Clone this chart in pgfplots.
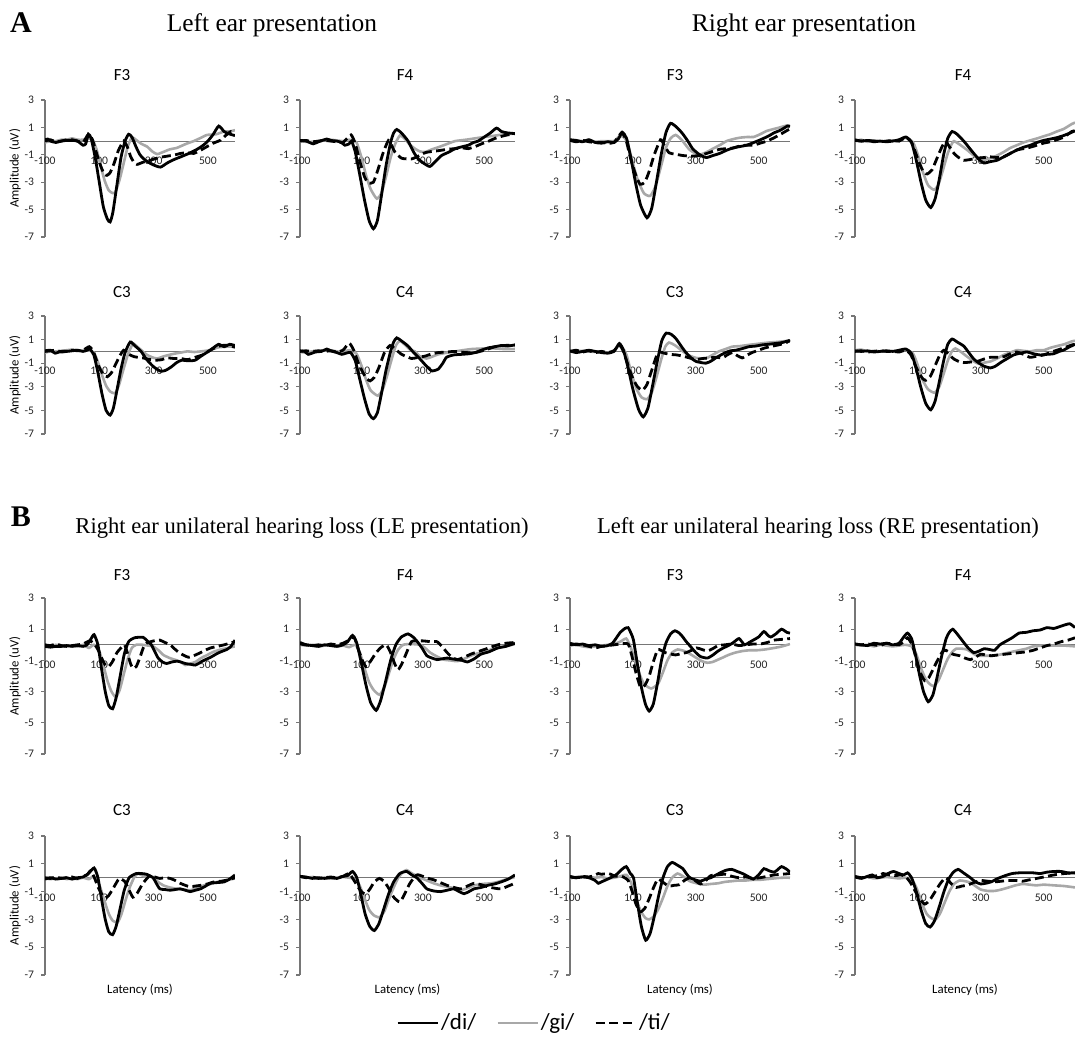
\documentclass[border=0pt]{standalone}
\usepackage{fontspec}
\setmainfont{Liberation Serif}
\newfontfamily\carl{Carlito}
\usepackage{pgfplots}
\pgfplotsset{compat=1.18}
\definecolor{axgray}{RGB}{118,118,118}
\definecolor{gicol}{RGB}{168,168,168}
\pgfplotsset{
 erp/.style={
  scale only axis,
  xmin=-100, xmax=600, ymin=-7, ymax=3,
  axis x line=middle, axis y line=left,
  axis line style={-, draw=axgray, line width=0.6pt},
  hide obscured x ticks=false, hide obscured y ticks=false,
  xtick={-100,100,300,500}, xticklabels={-100,100,300,500},
  ytick={-7,-5,-3,-1,1,3}, yticklabels={-7,-5,-3,-1,1,3},
  x tick style={draw=none},
  y tick style={draw=axgray, line width=0.6pt},
  tick align=outside, major tick length=2pt,
  tick label style={font=\carl\fontsize{5.8}{6}\selectfont, text=black!85},
  x tick label style={anchor=north, yshift=-2.5pt},
  y tick label style={anchor=east},
  clip=true,
 },
 amp/.style={ylabel={Amplitude (uV)}, ylabel style={font=\carl\fontsize{6.4}{7}\selectfont, at={(rel axis cs:-0.158,0.5)}, anchor=center, rotate=0}},
 lat/.style={xlabel={Latency (ms)}, xlabel style={font=\carl\fontsize{6.4}{7}\selectfont, at={(rel axis cs:0.5,0)}, anchor=center, yshift=-7.5pt}},
 dil/.style={black, line width=1.4pt},
 gil/.style={gicol, line width=1.3pt},
 til/.style={black, line width=1.4pt, dash pattern=on 4.5pt off 2.2pt},
 di/.style={dil, smooth, tension=0.35},
 gi/.style={gil, smooth, tension=0.35},
 ti/.style={til, smooth, tension=0.35},
}
\begin{document}
\begin{tikzpicture}
\path (0,0) rectangle (537.5pt,-519pt);
% ---- titles
\node[font=\bfseries\fontsize{15}{17}\selectfont] at (10.5pt,-11.5pt) {A};
\node[font=\fontsize{12.7}{15}\selectfont] at (136pt,-12.5pt) {Left ear presentation};
\node[font=\fontsize{12.7}{15}\selectfont] at (402pt,-12.5pt) {Right ear presentation};
\node[font=\bfseries\fontsize{15}{17}\selectfont] at (10.5pt,-258.5pt) {B};
\node[font=\fontsize{11.3}{14}\selectfont] at (151pt,-264pt) {Right ear unilateral hearing loss (LE presentation)};
\node[font=\fontsize{11.3}{14}\selectfont] at (409pt,-264pt) {Left ear unilateral hearing loss (RE presentation)};
% panel titles
\foreach \r/\yy/\a/\b in {1/-37.5/F3/F4, 2/-146/C3/C4, 3/-287.5/F3/F4, 4/-405/C3/C4}{
 \node[font=\carl\fontsize{8.5}{10}\selectfont] at (61pt,\yy pt) {\a};
 \node[font=\carl\fontsize{8.5}{10}\selectfont] at (202.5pt,\yy pt) {\b};
 \node[font=\carl\fontsize{8.5}{10}\selectfont] at (337.5pt,\yy pt) {\a};
 \node[font=\carl\fontsize{8.5}{10}\selectfont] at (481.5pt,\yy pt) {\b};
}
% ================= A: LE F3
\begin{axis}[erp, amp, at={(22.5pt,-118.5pt)}, width=95pt, height=68.5pt]
\addplot[gi] coordinates {(-100,-0.1)(-80,0)(-60,0)(-40,0.1)(-20,0.1)(0,0.2)(20,0.1)(40,0.1)(60,0.2)(75,0.1)(90,-0.6)(105,-1.8)(120,-2.9)(135,-3.6)(150,-3.8)(160,-3.7)(175,-2.8)(190,-1.6)(205,-0.4)(220,0.27)(235,0.1)(255,-0.2)(276,-0.4)(295,-0.75)(313,-0.95)(335,-0.8)(360,-0.6)(385,-0.5)(420,-0.2)(448,0)(470,0.2)(497,0.45)(530,0.5)(560,0.7)(580,0.7)(600,0.8)};
\addplot[ti] coordinates {(-100,0)(-80,0.1)(-60,-0.05)(-40,0)(-20,0.1)(0,0.1)(20,0)(40,-0.1)(60,0.5)(75,0.1)(90,-0.9)(105,-1.8)(118,-2.4)(128,-2.5)(140,-2.3)(155,-1.6)(170,-0.7)(190,0)(205,-0.5)(215,-1.1)(226,-1.5)(239,-1.7)(260,-1.55)(288,-1.4)(320,-1.2)(350,-1.1)(380,-1.0)(399,-0.9)(425,-0.85)(448,-0.9)(470,-0.7)(497,-0.4)(520,-0.15)(547,0.07)(565,0.4)(585,0.7)(600,0.5)};
\addplot[di] coordinates {(-100,0.1)(-90,0.15)(-80,0)(-60,-0.1)(-40,0)(-20,0.05)(0,0.05)(20,0)(40,-0.3)(50,-0.2)(60,0.5)(70,0.2)(85,-1.2)(100,-3)(115,-4.8)(130,-5.7)(140,-5.9)(150,-5.2)(165,-3.2)(180,-1.2)(195,0)(208,0.5)(220,0.3)(235,-0.4)(250,-1)(270,-1.4)(295,-1.7)(325,-1.9)(350,-1.6)(375,-1.35)(400,-1.15)(430,-0.9)(460,-0.6)(480,-0.35)(500,0)(520,0.5)(540,1.1)(560,0.7)(575,0.55)(600,0.4)};
\end{axis}
% ================= A: LE F4
\begin{axis}[erp, at={(150pt,-118.5pt)}, width=107.5pt, height=68.5pt]
\addplot[gi] coordinates {(-100,0)(-80,-0.05)(-60,-0.05)(-40,0)(-20,0.1)(0,0.1)(20,0.05)(40,0)(60,0.1)(84,-0.1)(100,-1.2)(115,-2.5)(130,-3.5)(150,-4.2)(165,-3.8)(180,-2.6)(195,-1.2)(210,-0.2)(225,0.4)(240,0.2)(255,-0.2)(274,-0.55)(290,-0.75)(307,-0.8)(330,-0.6)(350,-0.45)(380,-0.2)(405,0)(440,0.1)(470,0.2)(500,0.3)(535,0.4)(565,0.5)(600,0.55)};
\addplot[ti] coordinates {(-100,0)(-80,0.05)(-60,-0.05)(-40,0)(-20,0.05)(0,0)(20,-0.05)(40,-0.1)(66,0.45)(80,-0.2)(95,-1.5)(110,-2.6)(122,-3.05)(139,-3.0)(155,-2)(170,-0.9)(188,0.05)(200,-0.4)(209,-0.8)(231,-1.25)(263,-1.3)(285,-1.1)(307,-0.85)(330,-0.75)(350,-0.7)(380,-0.6)(405,-0.55)(430,-0.5)(448,-0.55)(470,-0.4)(491,-0.2)(515,0)(535,0.2)(565,0.4)(600,0.55)};
\addplot[di] coordinates {(-100,0.05)(-80,0)(-57,-0.2)(-40,-0.05)(-13,0.15)(0,0.05)(20,0)(35,-0.1)(46,-0.3)(60,-0.2)(68,0)(80,-0.8)(95,-2.5)(110,-4.3)(125,-5.8)(139,-6.4)(152,-5.8)(165,-4)(180,-1.8)(195,-0.1)(205,0.6)(215,0.85)(230,0.6)(252,0)(270,-0.8)(285,-1.3)(305,-1.65)(323,-1.85)(340,-1.5)(361,-1.05)(385,-0.8)(405,-0.55)(430,-0.4)(448,-0.3)(465,-0.1)(480,0)(500,0.3)(520,0.6)(540,0.95)(556,0.7)(575,0.6)(600,0.55)};
\end{axis}
% ================= A: RE F3
\begin{axis}[erp, at={(285pt,-118.5pt)}, width=110pt, height=68.5pt]
\addplot[gi] coordinates {(-100,0)(-80,0.05)(-60,0)(-40,0.1)(-20,-0.05)(0,0)(20,0)(40,0)(60,0.4)(75,0.2)(85,-0.3)(100,-1.6)(115,-2.8)(135,-3.8)(155,-4.0)(172,-3.3)(190,-1.8)(205,-0.5)(220,0.2)(236,0.45)(255,0.1)(279,-0.6)(295,-0.85)(312,-1.0)(335,-0.8)(355,-0.55)(380,-0.25)(398,0)(420,0.15)(441,0.25)(465,0.3)(484,0.3)(505,0.5)(527,0.75)(560,0.95)(592,1.15)(600,1.1)};
\addplot[ti] coordinates {(-100,0.05)(-80,-0.05)(-60,0.05)(-40,-0.05)(-20,-0.1)(0,-0.1)(20,-0.15)(40,-0.1)(64,0.6)(78,0.1)(92,-1.2)(108,-2.4)(123,-3.15)(138,-3.0)(152,-2.2)(168,-1)(188,0.1)(200,-0.3)(215,-0.85)(235,-0.95)(258,-1.05)(285,-1.1)(312,-1.05)(335,-0.9)(355,-0.75)(376,-0.6)(398,-0.55)(420,-0.5)(441,-0.35)(462,-0.3)(484,-0.3)(505,-0.15)(527,0)(550,0.25)(570,0.5)(600,0.9)};
\addplot[di] coordinates {(-100,0.1)(-80,0.05)(-60,-0.05)(-40,0.1)(-20,-0.1)(0,-0.15)(20,-0.05)(40,-0.1)(55,0.2)(66,0.65)(80,0.2)(95,-1.4)(110,-3.2)(125,-4.7)(145,-5.6)(160,-4.9)(175,-3)(190,-1)(205,0.6)(220,1.3)(240,1)(258,0.55)(275,0)(290,-0.55)(310,-0.95)(333,-1.2)(355,-1.05)(376,-0.9)(400,-0.65)(419,-0.5)(440,-0.4)(462,-0.3)(485,-0.1)(506,0.1)(530,0.35)(549,0.6)(570,0.8)(592,1.1)(600,1.05)};
\end{axis}
% ================= A: RE F4
\begin{axis}[erp, at={(427.5pt,-118.5pt)}, width=110pt, height=68.5pt]
\addplot[gi] coordinates {(-100,0)(-80,0.1)(-60,-0.05)(-40,0.05)(-20,0)(0,0)(20,0.05)(40,0)(62,0.25)(85,-0.1)(100,-1)(115,-2.2)(132,-3.2)(151,-3.55)(165,-3.2)(180,-2.1)(195,-0.9)(208,-0.2)(215,0)(230,-0.2)(257,-0.65)(280,-1.1)(299,-1.4)(315,-1.35)(331,-1.25)(352,-1.05)(373,-0.8)(394,-0.5)(415,-0.3)(436,-0.1)(457,0.05)(480,0.2)(500,0.35)(521,0.5)(542,0.7)(565,0.9)(590,1.25)(600,1.35)};
\addplot[ti] coordinates {(-100,0.05)(-80,0)(-60,0.05)(-40,0)(-20,-0.05)(0,0)(20,0.05)(40,0)(62,0.25)(80,-0.1)(95,-1)(110,-1.9)(120,-2.3)(130,-2.4)(145,-2.1)(160,-1.3)(175,-0.5)(188,0)(200,-0.4)(215,-0.9)(230,-1.2)(246,-1.4)(265,-1.35)(289,-1.25)(310,-1.2)(331,-1.15)(352,-1.2)(373,-1.15)(394,-0.9)(415,-0.65)(436,-0.55)(457,-0.45)(479,-0.3)(500,-0.15)(521,-0.05)(542,0.1)(565,0.3)(590,0.7)(600,0.75)};
\addplot[di] coordinates {(-100,0.1)(-80,0)(-60,0.05)(-40,-0.05)(-20,0)(0,-0.05)(20,0)(40,0.1)(62,0.3)(80,-0.1)(95,-1.4)(110,-3)(125,-4.3)(141,-4.85)(155,-4.2)(168,-2.8)(182,-1)(195,0.2)(209,0.7)(225,0.5)(246,0)(262,-0.45)(278,-0.9)(295,-1.35)(310,-1.6)(330,-1.5)(352,-1.4)(373,-1.15)(394,-0.9)(415,-0.65)(436,-0.45)(458,-0.3)(479,-0.1)(500,0.05)(521,0.15)(542,0.25)(563,0.4)(580,0.55)(600,0.75)};
\end{axis}
% ================= A: LE C3
\begin{axis}[erp, amp, at={(22.5pt,-217pt)}, width=95pt, height=59pt]
\addplot[gi] coordinates {(-100,-0.1)(-80,0)(-60,0)(-40,0.05)(-20,0.1)(0,0.15)(20,0.1)(40,0.05)(60,0.1)(80,-0.1)(95,-0.9)(110,-2)(125,-2.9)(140,-3.4)(158,-3.55)(172,-2.9)(188,-1.6)(205,-0.3)(220,0.5)(227,0.65)(245,0.3)(260,0)(276,-0.3)(295,-0.5)(313,-0.6)(340,-0.4)(375,-0.2)(400,-0.1)(425,0)(450,-0.05)(475,0)(505,0.1)(540,0.35)(570,0.4)(600,0.4)};
\addplot[ti] coordinates {(-100,0)(-80,0.05)(-60,0.1)(-40,-0.05)(-20,0)(0,0.1)(20,0.05)(40,0.1)(63,0.4)(78,0)(92,-0.9)(105,-1.6)(118,-2)(130,-2.15)(145,-1.8)(160,-1.1)(175,-0.4)(190,0.1)(205,-0.2)(229,-0.45)(260,-0.55)(280,-0.65)(304,-0.75)(330,-0.7)(350,-0.55)(375,-0.6)(400,-0.6)(425,-0.7)(453,-0.5)(480,-0.3)(502,0)(525,0.3)(550,0.5)(575,0.5)(600,0.35)};
\addplot[di] coordinates {(-100,0.05)(-80,0.1)(-63,-0.15)(-40,0)(-20,0)(0,0.05)(20,0.1)(40,0)(55,0.1)(65,0.2)(80,-0.3)(95,-1.8)(110,-3.6)(125,-5)(140,-5.4)(152,-4.8)(165,-3.3)(180,-1.5)(195,-0.1)(214,0.8)(230,0.5)(254,0)(275,-0.7)(300,-1.3)(326,-1.68)(345,-1.6)(366,-1.3)(385,-0.95)(403,-0.75)(430,-0.8)(453,-0.75)(475,-0.4)(502,0)(520,0.3)(540,0.6)(560,0.4)(580,0.6)(600,0.5)};
\end{axis}
% ================= A: LE C4
\begin{axis}[erp, at={(150pt,-217pt)}, width=107.5pt, height=59pt]
\addplot[gi] coordinates {(-100,-0.05)(-80,-0.1)(-60,0)(-40,0.05)(-20,0.1)(0,0.1)(20,0)(40,-0.05)(60,0.1)(84,-0.2)(100,-1.2)(115,-2.4)(130,-3.3)(153,-3.75)(168,-3.3)(182,-2.2)(198,-0.7)(212,0.5)(225,0.9)(240,0.6)(258,0.15)(274,0)(290,-0.4)(312,-0.6)(330,-0.45)(350,-0.25)(380,-0.1)(405,0)(430,0.1)(459,0.2)(500,0.25)(535,0.25)(565,0.2)(600,0.2)};
\addplot[ti] coordinates {(-100,0)(-80,0.05)(-60,0)(-40,0.05)(-20,0)(0,0.05)(20,-0.05)(40,0.1)(60,0.7)(75,0.1)(90,-1)(105,-1.8)(117,-2.3)(128,-2.5)(142,-2.2)(158,-1.3)(175,-0.1)(193,0.5)(210,0.2)(231,-0.25)(263,-0.6)(285,-0.5)(307,-0.4)(330,-0.2)(350,-0.1)(380,-0.05)(405,0)(440,-0.1)(470,-0.1)(500,0.1)(535,0.4)(565,0.5)(600,0.55)};
\addplot[di] coordinates {(-100,0.05)(-85,0)(-73,-0.25)(-50,-0.05)(-30,0)(-13,0.2)(0,0.05)(20,-0.1)(36,-0.25)(50,-0.15)(65,-0.1)(80,-0.8)(95,-2.4)(110,-4)(125,-5.3)(139,-5.7)(152,-5.2)(165,-3.6)(180,-1.6)(195,0)(205,0.8)(215,1.15)(230,0.9)(252,0.45)(270,-0.1)(291,-0.65)(310,-1.2)(329,-1.65)(350,-1.5)(365,-1)(377,-0.5)(400,-0.3)(426,-0.25)(450,-0.2)(470,-0.1)(490,0.1)(513,0.3)(535,0.4)(556,0.5)(575,0.45)(600,0.55)};
\end{axis}
% ================= A: RE C3
\begin{axis}[erp, at={(285pt,-217pt)}, width=110pt, height=59pt]
\addplot[gi] coordinates {(-100,-0.05)(-80,0)(-60,0.05)(-40,0)(-20,-0.05)(0,0)(20,-0.1)(40,0.1)(57,0.5)(70,0.2)(80,-0.3)(95,-1.8)(112,-3.2)(128,-3.9)(145,-4.05)(160,-3.5)(175,-2.2)(190,-0.7)(203,0.4)(215,0.75)(235,0.5)(259,0)(280,-0.35)(301,-0.55)(332,-0.6)(350,-0.35)(374,0)(395,0.2)(416,0.4)(440,0.45)(469,0.55)(500,0.65)(532,0.75)(560,0.8)(595,0.9)(600,0.9)};
\addplot[ti] coordinates {(-100,0)(-80,0.1)(-60,-0.05)(-40,0.05)(-20,-0.1)(0,0)(20,-0.1)(40,0.05)(57,0.55)(70,0)(85,-1.2)(100,-2.3)(115,-3)(130,-3.3)(145,-2.8)(160,-1.6)(180,-0.1)(200,-0.15)(217,-0.25)(240,-0.3)(259,-0.4)(280,-0.55)(301,-0.7)(322,-0.6)(343,-0.55)(365,-0.5)(385,-0.55)(400,-0.3)(416,-0.1)(432,-0.35)(448,-0.55)(465,-0.3)(479,-0.1)(500,0.1)(521,0.3)(545,0.45)(563,0.55)(585,0.7)(600,0.95)};
\addplot[di] coordinates {(-100,0.05)(-80,-0.1)(-60,0)(-40,0.1)(-20,0)(0,-0.1)(20,-0.15)(40,0)(57,0.67)(70,0.1)(85,-1.4)(100,-3.2)(118,-4.9)(133,-5.55)(148,-4.8)(162,-3)(178,-0.8)(192,0.9)(206,1.55)(222,1.45)(238,1.05)(255,0.4)(269,-0.1)(285,-0.55)(301,-0.85)(332,-1.0)(350,-0.8)(364,-0.55)(380,-0.3)(395,-0.1)(410,0.05)(427,0.1)(450,0.25)(469,0.4)(490,0.45)(511,0.55)(530,0.6)(553,0.67)(575,0.75)(595,0.9)(600,0.85)};
\end{axis}
% ================= A: RE C4
\begin{axis}[erp, at={(427.5pt,-217pt)}, width=110pt, height=59pt]
\addplot[gi] coordinates {(-100,0.1)(-80,0.15)(-60,0)(-40,0.05)(-20,0)(0,0.05)(20,0)(40,0.05)(62,0.15)(85,-0.2)(100,-1.2)(115,-2.4)(132,-3.2)(153,-3.5)(168,-3.0)(182,-1.9)(195,-0.8)(208,0)(219,0.25)(235,0)(257,-0.45)(275,-0.8)(294,-1.05)(312,-0.95)(331,-0.85)(352,-0.6)(373,-0.3)(394,-0.1)(415,0.1)(436,0.05)(457,0)(478,0.1)(500,0.1)(521,0.3)(542,0.45)(565,0.6)(590,0.85)(600,0.9)};
\addplot[ti] coordinates {(-100,0)(-80,0.05)(-60,-0.05)(-40,0)(-20,0.05)(0,0)(20,0)(40,-0.05)(62,0.1)(78,-0.3)(92,-1.2)(105,-1.9)(115,-2.3)(125,-2.45)(140,-2.1)(155,-1.2)(170,-0.3)(183,0.1)(200,-0.3)(215,-0.65)(230,-0.85)(246,-0.95)(268,-0.9)(289,-0.85)(310,-0.65)(331,-0.5)(352,-0.5)(373,-0.45)(394,-0.2)(415,-0.05)(436,-0.25)(457,-0.5)(479,-0.4)(500,-0.3)(521,-0.1)(542,0.1)(565,0.3)(590,0.55)(600,0.6)};
\addplot[di] coordinates {(-100,0.05)(-80,0)(-60,0.05)(-40,-0.05)(-20,0)(0,0.05)(20,0)(40,0.1)(62,0.2)(80,-0.2)(95,-1.5)(110,-3.1)(125,-4.4)(141,-4.95)(155,-4.2)(168,-2.6)(182,-0.8)(195,0.6)(209,1.05)(225,0.8)(246,0.45)(262,-0.1)(278,-0.65)(295,-1.0)(310,-1.25)(331,-1.4)(347,-1.25)(363,-0.95)(385,-0.6)(405,-0.3)(426,-0.15)(447,-0.05)(468,-0.2)(489,-0.3)(510,-0.25)(532,-0.2)(550,0)(563,0.1)(580,0.35)(600,0.6)};
\end{axis}
% ================= B: RHL F3
\begin{axis}[erp, amp, at={(22.5pt,-377pt)}, width=95pt, height=78pt]
\addplot[gi] coordinates {(-100,-0.05)(-80,-0.1)(-60,0)(-40,-0.05)(-20,-0.1)(0,-0.05)(20,-0.1)(40,0)(62,-0.2)(80,0)(100,-0.4)(115,-1.3)(130,-2.3)(145,-3.0)(161,-3.35)(175,-2.9)(190,-1.9)(205,-0.9)(220,-0.2)(236,0)(260,0)(280,-0.05)(298,-0.1)(318,-0.35)(336,-0.65)(360,-0.85)(386,-1.0)(400,-1.1)(417,-1.3)(436,-1.2)(454,-1.1)(475,-0.85)(498,-0.65)(520,-0.45)(548,-0.3)(575,-0.2)(600,-0.1)};
\addplot[ti] coordinates {(-100,0)(-80,-0.05)(-60,0.05)(-40,-0.05)(-20,-0.1)(0,-0.05)(20,0)(40,0.05)(64,0.25)(80,0.1)(95,-0.3)(110,-0.9)(122,-1.3)(134,-1.4)(148,-1.1)(165,-0.5)(180,-0.2)(193,0)(205,-0.6)(215,-1.2)(224,-1.5)(236,-1.4)(250,-0.8)(262,-0.2)(274,0.1)(300,0.25)(323,0.3)(342,0.15)(361,0)(380,-0.3)(398,-0.55)(415,-0.7)(429,-0.8)(448,-0.7)(467,-0.55)(490,-0.35)(510,-0.2)(535,-0.1)(560,0)(580,0.1)(600,0.2)};
\addplot[di] coordinates {(-100,-0.1)(-80,-0.15)(-60,-0.1)(-40,-0.1)(-20,-0.05)(0,-0.1)(20,-0.05)(40,-0.1)(55,0)(70,0.4)(81,0.65)(95,0)(108,-1.5)(122,-3)(135,-3.9)(149,-4.1)(162,-3.4)(177,-2)(192,-0.6)(208,0.2)(230,0.45)(261,0.48)(280,0.2)(292,0)(305,-0.45)(317,-0.85)(333,-1.1)(348,-1.2)(367,-1.1)(386,-1.05)(400,-1.1)(417,-1.2)(436,-1.25)(454,-1.3)(470,-1.15)(485,-1.0)(510,-0.8)(535,-0.55)(555,-0.4)(570,-0.3)(585,-0.1)(600,0.3)};
\end{axis}
% ================= B: RHL F4
\begin{axis}[erp, at={(150pt,-377pt)}, width=107.5pt, height=78pt]
\addplot[gi] coordinates {(-100,0)(-80,-0.05)(-60,0)(-40,-0.1)(-20,-0.05)(0,0)(20,-0.1)(40,-0.05)(60,-0.15)(80,0)(95,-0.5)(110,-1.5)(125,-2.4)(140,-2.9)(159,-3.2)(175,-2.7)(190,-1.8)(205,-0.9)(220,-0.3)(236,0)(260,0.05)(291,0)(307,-0.2)(324,-0.5)(346,-0.75)(368,-0.95)(390,-1.0)(412,-1.05)(434,-0.9)(456,-0.7)(478,-0.55)(500,-0.45)(522,-0.3)(544,-0.2)(570,-0.1)(600,0.05)};
\addplot[ti] coordinates {(-100,0.05)(-80,0)(-60,-0.05)(-40,0)(-20,-0.05)(0,0.05)(20,0)(40,0.1)(60,0.3)(76,0.5)(90,-0.3)(103,-1.0)(115,-1.4)(128,-1.1)(148,-0.5)(165,-0.15)(181,0)(195,-0.5)(208,-1.2)(219,-1.6)(232,-1.2)(247,-0.5)(263,0.2)(285,0.25)(302,0.25)(325,0.2)(346,0.2)(362,-0.1)(379,-0.5)(395,-0.8)(412,-0.95)(434,-0.8)(456,-0.6)(478,-0.45)(500,-0.3)(522,-0.15)(544,0)(570,0.1)(600,0.15)};
\addplot[di] coordinates {(-100,0.15)(-80,0)(-60,-0.05)(-40,-0.1)(-20,0)(0,-0.05)(20,-0.1)(40,0)(55,0.2)(71,0.6)(85,0.1)(100,-1.2)(115,-2.6)(130,-3.7)(148,-4.2)(162,-3.6)(178,-2.4)(195,-1)(212,0)(230,0.5)(252,0.7)(268,0.5)(280,0.25)(297,-0.2)(313,-0.7)(330,-0.85)(346,-0.95)(362,-0.9)(379,-0.85)(395,-0.9)(412,-0.95)(428,-1.0)(445,-1.1)(467,-0.9)(489,-0.6)(515,-0.45)(544,-0.2)(570,-0.1)(600,0.1)};
\end{axis}
% ================= B: LHL F3
\begin{axis}[erp, at={(285pt,-377pt)}, width=110pt, height=78pt]
\addplot[gi] coordinates {(-100,-0.05)(-80,0)(-60,-0.1)(-40,-0.15)(-20,-0.1)(0,-0.05)(20,0)(40,0.05)(60,0.2)(79,0.4)(92,-0.1)(105,-0.9)(120,-1.8)(135,-2.5)(158,-2.8)(180,-2.5)(195,-1.8)(210,-1.0)(225,-0.5)(242,-0.3)(264,-0.4)(283,-0.6)(303,-0.85)(320,-1.05)(337,-1.15)(354,-1.1)(371,-0.95)(388,-0.8)(404,-0.65)(426,-0.5)(449,-0.4)(471,-0.35)(494,-0.35)(520,-0.3)(550,-0.2)(575,-0.1)(600,0.05)};
\addplot[ti] coordinates {(-100,0)(-80,0.05)(-60,0)(-40,-0.1)(-20,-0.2)(0,-0.1)(20,-0.05)(40,0)(60,0.05)(85,0.05)(98,-0.8)(110,-1.8)(124,-2.7)(138,-2.6)(152,-2)(165,-1.1)(180,-0.3)(203,-0.5)(236,-0.65)(255,-0.55)(270,-0.5)(287,-0.35)(303,-0.2)(320,-0.3)(337,-0.4)(354,-0.25)(371,-0.05)(393,0)(415,0.05)(438,-0.05)(460,0)(483,0.05)(505,0.05)(528,0.15)(550,0.3)(575,0.35)(600,0.4)};
\addplot[di] coordinates {(-100,0.1)(-80,0)(-60,0.05)(-40,-0.05)(-20,0)(0,-0.1)(20,-0.05)(35,0.1)(46,0.4)(60,0.8)(75,1.05)(85,1.1)(95,0.7)(102,0.3)(115,-1.3)(128,-2.8)(140,-3.8)(152,-4.25)(165,-3.8)(178,-2.5)(191,-1.0)(205,0.1)(220,0.7)(234,0.9)(248,0.75)(259,0.5)(270,0.2)(281,-0.05)(298,-0.45)(315,-0.75)(337,-0.85)(355,-0.65)(371,-0.4)(388,-0.2)(404,-0.05)(420,0.15)(438,0.4)(455,0)(470,0.15)(483,0.3)(500,0.5)(517,0.85)(530,0.6)(539,0.5)(555,0.7)(573,1.0)(590,0.8)(600,0.75)};
\end{axis}
% ================= B: LHL F4
\begin{axis}[erp, at={(427.5pt,-377pt)}, width=110pt, height=78pt]
\addplot[gi] coordinates {(-100,0)(-80,-0.05)(-60,0)(-40,-0.1)(-20,0)(0,-0.05)(20,-0.1)(40,-0.05)(60,0)(80,-0.1)(95,-0.6)(110,-1.5)(125,-2.2)(137,-2.5)(150,-2.65)(165,-2.3)(180,-1.6)(195,-0.9)(210,-0.45)(222,-0.25)(240,-0.25)(256,-0.3)(272,-0.5)(289,-0.7)(311,-0.7)(333,-0.7)(355,-0.65)(378,-0.55)(400,-0.45)(422,-0.35)(445,-0.25)(467,-0.1)(500,-0.05)(533,-0.05)(566,-0.05)(600,-0.1)};
\addplot[ti] coordinates {(-100,0.05)(-80,0)(-60,0.05)(-40,0)(-20,-0.05)(0,0.1)(20,0.05)(40,0)(55,0.2)(67,0.45)(82,0)(95,-0.9)(108,-1.8)(122,-2.3)(135,-2.1)(150,-1.5)(165,-0.9)(178,-0.45)(189,-0.35)(211,-0.6)(233,-0.7)(250,-0.85)(267,-0.95)(283,-0.8)(300,-0.6)(316,-0.65)(333,-0.7)(355,-0.65)(378,-0.6)(400,-0.55)(422,-0.5)(445,-0.45)(467,-0.35)(489,-0.2)(511,-0.05)(533,0.05)(556,0.2)(578,0.3)(600,0.45)};
\addplot[di] coordinates {(-100,0.05)(-80,0)(-60,-0.05)(-40,0.1)(-20,0.05)(0,0.1)(20,0)(40,0.1)(55,0.5)(67,0.75)(80,0.4)(92,-0.6)(105,-1.9)(118,-3.0)(133,-3.65)(148,-3.2)(162,-2.0)(176,-0.7)(190,0.4)(200,0.8)(211,1.0)(225,0.7)(244,0.2)(260,-0.2)(278,-0.5)(295,-0.4)(311,-0.25)(328,-0.3)(344,-0.35)(361,0)(378,0.2)(400,0.45)(422,0.75)(445,0.8)(467,0.9)(489,0.95)(511,1.1)(533,1.05)(556,1.2)(583,1.35)(600,1.1)};
\end{axis}
% ================= B: RHL C3
\begin{axis}[erp, amp, lat, at={(22.5pt,-487.5pt)}, width=95pt, height=69.5pt]
\addplot[gi] coordinates {(-100,-0.05)(-80,-0.1)(-60,-0.05)(-40,0)(-20,-0.1)(0,-0.05)(20,-0.1)(40,0)(62,-0.1)(80,0.1)(100,-0.5)(118,-1.6)(135,-2.6)(150,-3.1)(168,-3.2)(182,-2.6)(197,-1.6)(212,-0.7)(228,0)(242,0.3)(265,0.1)(298,0.05)(316,-0.3)(336,-0.55)(360,-0.7)(386,-0.8)(410,-0.85)(435,-0.9)(460,-0.75)(485,-0.55)(510,-0.45)(535,-0.3)(565,-0.2)(600,-0.05)};
\addplot[ti] coordinates {(-100,0)(-80,-0.05)(-60,0.05)(-40,-0.05)(-20,0)(0,0.05)(20,-0.05)(40,0.1)(55,0.2)(68,0.5)(82,0)(96,-0.7)(110,-1.2)(122,-1.45)(134,-1.3)(150,-0.8)(165,-0.3)(174,-0.05)(193,-0.25)(210,-0.9)(224,-1.4)(240,-1.1)(261,-0.4)(286,0.15)(305,0.05)(323,-0.05)(342,0)(361,-0.05)(380,-0.2)(398,-0.4)(417,-0.55)(435,-0.65)(454,-0.6)(473,-0.55)(498,-0.45)(523,-0.3)(550,-0.25)(575,-0.15)(600,0)};
\addplot[di] coordinates {(-100,-0.1)(-80,0)(-60,-0.1)(-40,-0.05)(-20,0)(0,-0.1)(20,0)(40,0.05)(60,0.3)(81,0.7)(95,0)(108,-1.5)(122,-3)(135,-3.9)(149,-4.1)(162,-3.5)(177,-2.2)(192,-0.9)(210,0)(236,0.3)(255,0.3)(274,0.25)(298,0)(310,-0.4)(323,-0.8)(342,-0.85)(361,-0.9)(380,-0.85)(398,-0.8)(417,-0.9)(435,-1.0)(454,-0.9)(473,-0.8)(492,-0.6)(510,-0.4)(535,-0.35)(560,-0.3)(580,-0.1)(600,0.2)};
\end{axis}
% ================= B: RHL C4
\begin{axis}[erp, lat, at={(150pt,-487.5pt)}, width=107.5pt, height=69.5pt]
\addplot[gi] coordinates {(-100,0.05)(-80,0)(-60,0.05)(-40,-0.05)(-20,0)(0,-0.05)(20,0)(40,0.05)(60,0)(80,-0.1)(95,-0.6)(110,-1.5)(125,-2.3)(140,-2.7)(159,-2.85)(175,-2.4)(190,-1.5)(205,-0.7)(220,0)(235,0.4)(247,0.55)(265,0.3)(291,0)(313,-0.2)(335,-0.4)(357,-0.55)(379,-0.65)(401,-0.75)(423,-0.9)(445,-0.75)(467,-0.55)(494,-0.45)(522,-0.4)(545,-0.3)(566,-0.15)(600,0.05)};
\addplot[ti] coordinates {(-100,0.1)(-80,0)(-60,0.05)(-40,-0.05)(-20,0)(0,0.05)(20,0)(40,0.1)(60,0.3)(76,-0.2)(93,-0.8)(105,-1.1)(115,-1.15)(128,-0.8)(142,-0.3)(159,-0.05)(175,-0.3)(190,-0.8)(205,-1.4)(225,-1.75)(240,-1.2)(258,-0.4)(280,0.2)(300,0.1)(318,-0.05)(335,-0.15)(357,-0.35)(379,-0.55)(401,-0.7)(423,-0.8)(445,-0.6)(467,-0.4)(489,-0.5)(511,-0.65)(533,-0.75)(555,-0.8)(578,-0.6)(600,-0.4)};
\addplot[di] coordinates {(-100,0.1)(-80,0.05)(-60,-0.05)(-40,0)(-20,-0.05)(0,0)(20,-0.05)(40,0.1)(55,0.15)(71,0.45)(85,0)(98,-1.2)(112,-2.6)(127,-3.5)(142,-3.8)(157,-3.3)(172,-2.3)(188,-1.2)(205,-0.3)(225,0.3)(247,0.45)(264,0.2)(280,0)(297,-0.4)(313,-0.8)(335,-0.95)(357,-1.0)(379,-0.9)(401,-0.8)(418,-1.0)(434,-1.15)(450,-1.0)(467,-0.8)(490,-0.7)(511,-0.55)(533,-0.45)(555,-0.3)(578,-0.1)(600,0.2)};
\end{axis}
% ================= B: LHL C3
\begin{axis}[erp, lat, at={(285pt,-487.5pt)}, width=110pt, height=69.5pt]
\addplot[gi] coordinates {(-100,-0.05)(-80,0.05)(-60,0.1)(-40,0.05)(-20,0)(0,0.05)(20,-0.05)(40,0)(60,0.1)(80,0.2)(95,-0.4)(110,-1.5)(125,-2.4)(140,-2.9)(152,-3.0)(166,-2.8)(180,-2.3)(195,-1.5)(210,-0.6)(225,0)(242,0.3)(260,0.1)(281,-0.25)(303,-0.4)(326,-0.5)(348,-0.45)(371,-0.4)(393,-0.3)(415,-0.25)(438,-0.2)(460,-0.2)(483,-0.15)(505,-0.15)(528,-0.1)(550,-0.05)(575,0)(600,0)};
\addplot[ti] coordinates {(-100,0.05)(-80,0)(-60,0.1)(-40,0.05)(-20,0.2)(-10,0.3)(0,0.25)(23,0.3)(45,0.1)(65,0.1)(85,-0.2)(98,-1.0)(110,-1.9)(124,-2.45)(138,-2.2)(152,-1.5)(166,-0.7)(180,-0.1)(197,-0.35)(214,-0.6)(231,-0.55)(248,-0.5)(264,-0.2)(281,0)(298,-0.2)(315,-0.45)(332,-0.2)(348,0.15)(370,0.2)(393,0.25)(415,0.1)(438,0)(460,0.05)(483,-0.05)(505,0)(528,0.1)(550,0.2)(575,0.25)(600,0.3)};
\addplot[di] coordinates {(-100,0.1)(-80,0)(-60,0.05)(-40,0)(-20,-0.2)(-10,-0.4)(0,-0.3)(20,-0.1)(46,0.2)(65,0.6)(79,0.8)(92,0.3)(102,0)(113,-1.6)(127,-3.5)(141,-4.5)(155,-4.0)(168,-2.8)(182,-1.3)(196,0)(210,0.8)(225,1.1)(242,0.9)(259,0.65)(270,0.3)(281,0)(298,-0.15)(315,-0.25)(332,-0.1)(348,0)(365,0.2)(382,0.4)(398,0.55)(415,0.6)(432,0.45)(449,0.3)(466,0.1)(483,-0.1)(500,0.2)(517,0.65)(533,0.5)(550,0.4)(562,0.6)(573,0.8)(590,0.6)(600,0.4)};
\end{axis}
% ================= B: LHL C4
\begin{axis}[erp, lat, at={(427.5pt,-487.5pt)}, width=110pt, height=69.5pt]
\addplot[gi] coordinates {(-100,0.05)(-80,0)(-60,0.05)(-40,-0.05)(-20,0)(0,0.05)(20,0)(40,-0.05)(60,0)(80,-0.1)(97,-0.8)(112,-1.8)(128,-2.6)(142,-2.9)(156,-3.0)(170,-2.6)(185,-1.8)(200,-1.0)(215,-0.45)(233,-0.2)(250,-0.25)(267,-0.35)(283,-0.6)(300,-0.85)(322,-0.95)(344,-0.95)(366,-0.85)(389,-0.7)(411,-0.55)(433,-0.45)(455,-0.5)(478,-0.55)(500,-0.5)(533,-0.55)(566,-0.6)(600,-0.7)};
\addplot[ti] coordinates {(-100,0.1)(-80,0)(-60,0.05)(-40,0.1)(-20,0.2)(-11,0.3)(10,0.2)(30,0.15)(44,0.2)(60,0.1)(75,-0.3)(90,-0.9)(105,-1.5)(122,-1.9)(138,-1.6)(155,-1.0)(172,-0.4)(189,0)(205,-0.4)(222,-0.7)(240,-0.6)(256,-0.55)(278,-0.35)(300,-0.2)(322,-0.25)(344,-0.3)(366,-0.25)(389,-0.2)(411,-0.2)(433,-0.25)(455,-0.15)(478,-0.05)(500,0.05)(533,0.2)(566,0.3)(600,0.35)};
\addplot[di] coordinates {(-100,0.05)(-80,-0.05)(-60,0.1)(-45,0.2)(-30,0)(-10,0.1)(5,0.3)(22,0.45)(40,0.3)(55,0.2)(67,0.35)(80,0)(95,-1.0)(110,-2.3)(125,-3.3)(139,-3.55)(153,-3.1)(168,-2.1)(183,-1.0)(198,-0.1)(213,0.4)(228,0.6)(245,0.35)(267,0)(283,-0.3)(300,-0.45)(316,-0.4)(333,-0.3)(355,-0.05)(378,0.15)(400,0.3)(422,0.35)(445,0.35)(467,0.35)(489,0.3)(511,0.4)(533,0.45)(556,0.45)(578,0.35)(600,0.35)};
\end{axis}
% ================= legend
\begin{axis}[at={(267pt,-511.5pt)}, anchor=center, hide axis, scale only axis, width=10pt, height=10pt, xmin=0, xmax=1, ymin=0, ymax=1,
 legend columns=3,
 legend style={at={(0.5,0.5)}, anchor=center, draw=none, fill=none, font=\carl\fontsize{11.5}{13}\selectfont, /tikz/every even column/.append style={column sep=9pt}, inner sep=0pt, nodes={inner sep=1pt}},
 legend image code/.code={\draw[#1] (0pt,0pt) -- (20pt,0pt);}]
\addlegendimage{dil}
\addlegendentry{/di/}
\addlegendimage{gil}
\addlegendentry{/gi/}
\addlegendimage{til}
\addlegendentry{/ti/}
\end{axis}
\pgfresetboundingbox
\useasboundingbox (0,0) rectangle (537.5pt,-519pt);
\end{tikzpicture}
\end{document}
